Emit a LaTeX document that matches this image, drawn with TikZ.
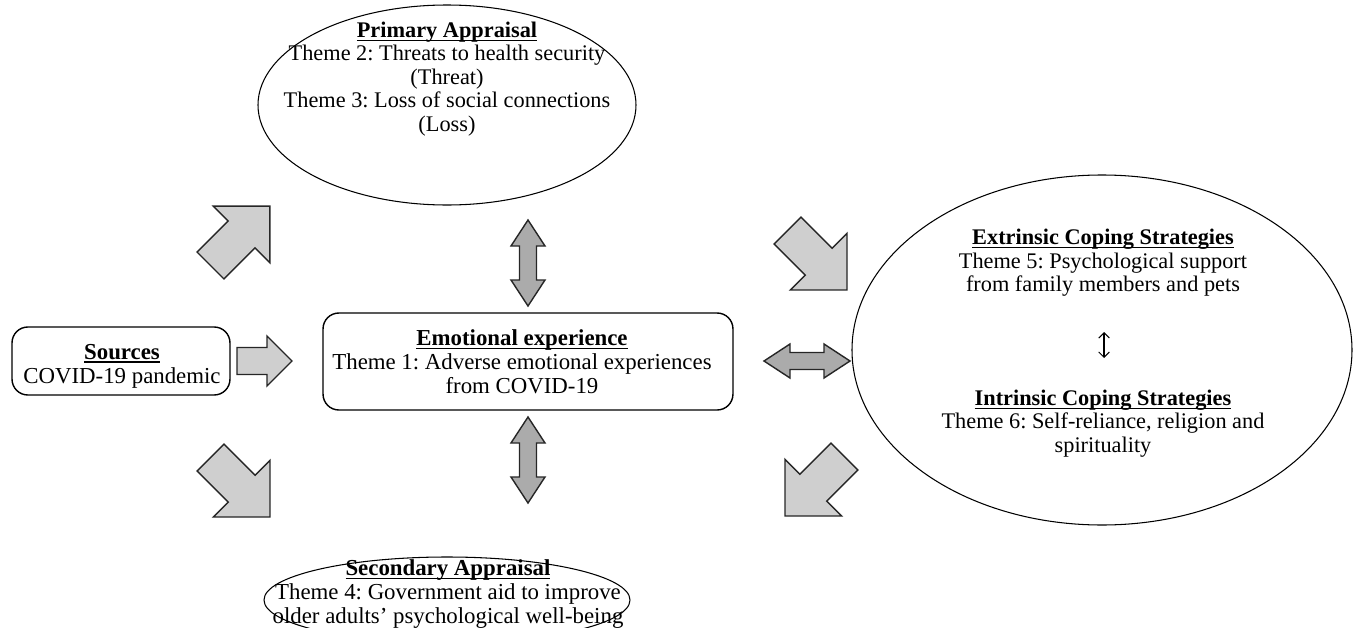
\documentclass[tikz,border=0pt]{standalone}
\usepackage{fontspec}
\setmainfont{Liberation Serif}
\usetikzlibrary{arrows.meta}
\definecolor{lightarrow}{gray}{0.81}
\definecolor{darkarrow}{gray}{0.67}
\newcommand{\heading}[1]{\setbox0=\hbox{\textbf{#1}}\rlap{\rule[-2pt]{\wd0}{0.7pt}}\box0}
\frenchspacing

\begin{document}
\begin{tikzpicture}[x=0.02cm,y=0.02cm,
    lbl/.style={align=center,inner sep=0pt,font=\fontsize{13}{13.6}\selectfont},
    lblsmall/.style={lbl,font=\fontsize{12.7}{13.4}\selectfont},
    box/.style={draw,rounded corners=9pt,line width=0.8pt,inner sep=0pt},
    oval/.style={line width=0.6pt},
    lightarr/.style={draw=black!85,fill=lightarrow,line width=0.8pt,line join=miter},
    darkarr/.style={draw=black!85,fill=darkarrow,line width=0.8pt,line join=miter}]
\clip (0,0) rectangle (1357,627);

% ellipses
\coordinate (prim) at (447,522);
\draw[oval] (prim) ellipse (189 and 100); % primary appraisal
\coordinate (coping) at (1102,277);
\draw[oval] (coping) ellipse (250 and 175); % coping strategies
\coordinate (second) at (447,27);
\draw[oval] (second) ellipse (183 and 43); % secondary appraisal

% boxes
\node[box,minimum width=8.2cm,minimum height=1.94cm] (emo) at (528,265.5) {};
\node[lbl] (emotext) at (522,265) {\heading{Emotional experience}\\
    Theme 1: Adverse emotional experiences\\from COVID-19};
\node[box,minimum width=4.36cm,minimum height=1.36cm] (src) at (121,266) {};
\node[lbl] (srctext) at (122,261) {\heading{Sources}\\COVID-19 pandemic};

% texts
\node[lblsmall] (primtext) at (447,548) {\heading{Primary Appraisal}\\
    Theme 2: Threats to health security\\(Threat)\\
    Theme 3: Loss of social connections\\(Loss)};
\node[lblsmall] (extr) at (1103,364) {\heading{Extrinsic Coping Strategies}\\
    Theme 5: Psychological support\\from family members and pets};
\node[lblsmall] (intr) at (1103,203.5) {\heading{Intrinsic Coping Strategies}\\
    Theme 6: Self-reliance, religion and\\spirituality};
\node[lbl] (sectext) at (448,33) {\heading{Secondary Appraisal}\\
    Theme 4: Government aid to improve\\older adults’ psychological well-being};

% small up/down arrow
\coordinate (ud1) at (1104,295);
\coordinate (ud2) at (1104,269);
\draw[line width=0.6pt,{Straight Barb[length=3pt,width=6pt]}-{Straight Barb[length=3pt,width=6pt]}] (ud1) -- (ud2);

% Block Arrows
\draw[lightarr,shift={(237,266)}] (0,-13.5) -- (30,-13.5) -- (30,-25) -- (55,0)
    -- (30,25) -- (30,13.5) -- (0,13.5) -- cycle;
\foreach \px/\py/\ang in {210.5/361.5/45, 787.6/396.4/-45, 210.6/169.4/-45, 844.4/170.4/-135}
    \draw[lightarr,shift={(\px,\py)},rotate=\ang] (0,-19) -- (44,-19) -- (44,-40) -- (84,0)
        -- (44,40) -- (44,19) -- (0,19) -- cycle;

% Double Arrows
\foreach \px/\py/\ang in {528/321/90, 528/124/90, 764/266/0}
    \draw[darkarr,shift={(\px,\py)},rotate=\ang] (0,0) -- (26,17) -- (26,8.5) -- (60,8.5)
        -- (60,17) -- (86,0) -- (60,-17) -- (60,-8.5) -- (26,-8.5) -- (26,-17) -- cycle;
\end{tikzpicture}
\end{document}
